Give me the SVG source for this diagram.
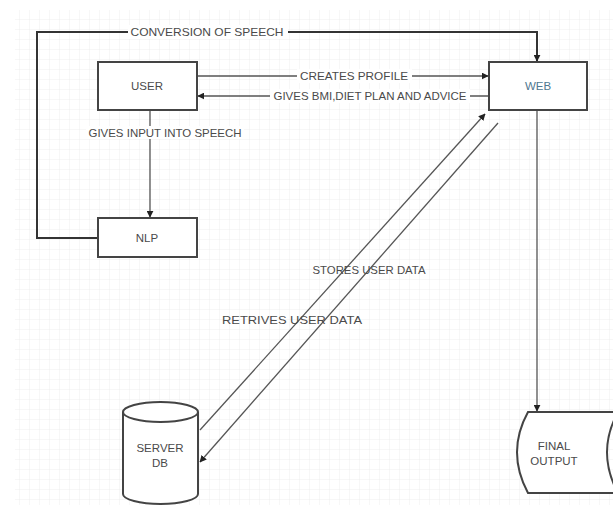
<svg xmlns="http://www.w3.org/2000/svg" width="613" height="511" viewBox="0 0 613 511">
<defs>
<pattern id="grid" width="10" height="10" patternUnits="userSpaceOnUse">
<path d="M10 0 V10 M0 10 H10" fill="none" stroke="#eeeeee" stroke-width="1"/>
</pattern>
<marker id="arr" viewBox="0 0 10 10" refX="9" refY="5" markerWidth="7" markerHeight="7" markerUnits="userSpaceOnUse" orient="auto">
<path d="M0 0 L10 5 L0 10 z" fill="#222"/>
</marker>
</defs>
<style>
.node{fill:#fff;stroke:#444;stroke-width:2}
.edge{fill:none;stroke:#555;stroke-width:1.3}
.thick{stroke:#333;stroke-width:2}
.lbl{font-family:"Liberation Sans",Arial,sans-serif;font-size:11.5px;fill:#4a4a4a}
.bg{fill:#fff}
</style>
<rect width="613" height="511" fill="#fff"/>
<rect x="15" y="10" width="598" height="495" fill="url(#grid)"/>
<g id="connectors">
<path class="edge thick" d="M98 238 H37 V32 H537 V61" marker-end="url(#arr)"/>
<rect class="bg" x="128" y="25" width="160" height="14"/>
<text class="lbl" x="207" y="36" text-anchor="middle" textLength="153" lengthAdjust="spacingAndGlyphs">CONVERSION OF SPEECH</text>
<path class="edge" d="M197 76 H488" marker-end="url(#arr)"/>
<rect class="bg" x="297" y="69" width="115" height="14"/>
<text class="lbl" x="354" y="80" text-anchor="middle" textLength="108" lengthAdjust="spacingAndGlyphs">CREATES PROFILE</text>
<path class="edge" d="M489 96 H198" marker-end="url(#arr)"/>
<rect class="bg" x="270" y="89" width="200" height="14"/>
<text class="lbl" x="370" y="100" text-anchor="middle" textLength="193" lengthAdjust="spacingAndGlyphs">GIVES BMI,DIET PLAN AND ADVICE</text>
<path class="edge" d="M150 110 V217" marker-end="url(#arr)"/>
<rect class="bg" x="86" y="126" width="158" height="13"/>
<text class="lbl" x="165" y="137" text-anchor="middle" textLength="153" lengthAdjust="spacingAndGlyphs">GIVES INPUT INTO SPEECH</text>
<path class="edge" d="M200 430 L485 114" marker-end="url(#arr)"/>
<path class="edge" d="M498 123 L200 462" marker-end="url(#arr)"/>
<text class="lbl" x="369" y="274" text-anchor="middle" textLength="113" lengthAdjust="spacingAndGlyphs">STORES USER DATA</text>
<text class="lbl" x="292" y="324" text-anchor="middle" textLength="140" lengthAdjust="spacingAndGlyphs">RETRIVES USER DATA</text>
<path class="edge" d="M537 110 V411" marker-end="url(#arr)"/>
</g>
<g id="user">
<rect class="node" x="98" y="62" width="99" height="48"/>
<text class="lbl" x="147" y="90" text-anchor="middle">USER</text>
</g>
<g id="web">
<rect class="node" x="489" y="62" width="98" height="48"/>
<text class="lbl" x="538" y="90" text-anchor="middle" style="fill:#4f7890">WEB</text>
</g>
<g id="nlp">
<rect class="node" x="98" y="218" width="99" height="39"/>
<text class="lbl" x="147" y="242" text-anchor="middle">NLP</text>
</g>
<g id="serverdb">
<path class="node" d="M123 412 a37.5 10 0 0 1 75 0 v82 a37.5 10 0 0 1 -75 0 z"/>
<path class="node" style="fill:none" d="M123 412 a37.5 10 0 0 0 75 0"/>
<text class="lbl" x="160" y="452" text-anchor="middle">SERVER</text>
<text class="lbl" x="160" y="467" text-anchor="middle">DB</text>
</g>
<g id="finaloutput">
<path class="node" d="M528 412 L618 412 Q596 452 618 493 L528 493 Q506 452 528 412 Z"/>
<text class="lbl" x="554" y="450" text-anchor="middle">FINAL</text>
<text class="lbl" x="554" y="465" text-anchor="middle">OUTPUT</text>
</g>
</svg>
